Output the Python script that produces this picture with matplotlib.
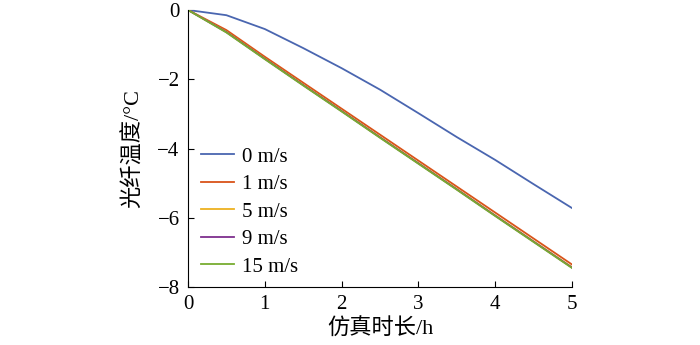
import numpy as np
import matplotlib
matplotlib.use('Agg')
import matplotlib.pyplot as plt

plt.rcParams['font.family'] = ['Liberation Serif', 'Noto Sans CJK SC']

# simulation time (h) and fiber temperature change for each wind speed
t = [0, 0.5, 1, 1.5, 2, 2.5, 3, 3.5, 4, 4.5, 5]
v0 = [0, -0.15, -0.55, -1.10, -1.68, -2.30, -2.98, -3.67, -4.33, -5.03, -5.72]
v1 = [0, -0.58, -1.35, -2.10, -2.85, -3.60, -4.35, -5.10, -5.85, -6.60, -7.35]
v5 = [0, -0.63, -1.40, -2.16, -2.91, -3.67, -4.42, -5.17, -5.93, -6.68, -7.43]
v9 = [0, -0.64, -1.41, -2.17, -2.92, -3.68, -4.43, -5.18, -5.94, -6.69, -7.44]
v15 = [0, -0.65, -1.42, -2.18, -2.93, -3.69, -4.44, -5.19, -5.95, -6.70, -7.45]

labels = ['0 m/s', '1 m/s', '5 m/s', '9 m/s', '15 m/s']
colors = ['#4A66B0', '#D95319', '#EDB120', '#7E2F8E', '#77AC30']

fig = plt.figure(figsize=(7, 3.45), dpi=100)
ax = fig.add_axes([0.2686, 0.168, 0.5486, 0.803])

for y, lab, c in zip([v0, v1, v5, v9, v15], labels, colors):
    ax.plot(t, y, color=c, lw=1.3, label=lab)

ax.set_xlim(0, 5)
ax.set_ylim(-8, 0)
ax.set_xticks([0, 1, 2, 3, 4, 5])
ax.set_yticks([0, -2, -4, -6, -8])
ax.tick_params(direction='in', labelsize=15, length=4)
ax.tick_params(axis='x', pad=6)
ax.tick_params(axis='y', pad=6)
ax.spines['top'].set_visible(False)
ax.spines['right'].set_visible(False)

ax.set_xlabel('仿真时长/h', fontsize=16, labelpad=3)
ax.set_ylabel('光纤温度/°C', fontsize=16, labelpad=10)

ax.legend(loc='upper left', bbox_to_anchor=(0.0, 0.55), frameon=False,
          fontsize=15, handlelength=1.6, handletextpad=0.4, labelspacing=0.38,
          borderaxespad=0.2)

fig.savefig('out.png', dpi=100)
